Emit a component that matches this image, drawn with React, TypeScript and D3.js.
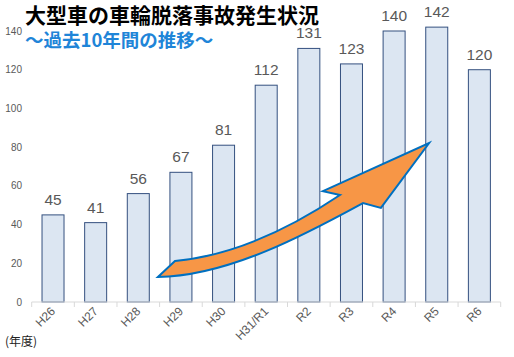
import React from "react";
import * as d3 from "d3";

const categories = ["H26", "H27", "H28", "H29", "H30", "H31/R1", "R2", "R3", "R4", "R5", "R6"];
const values = [45, 41, 56, 67, 81, 112, 131, 123, 140, 142, 120];
const yTicks = [0, 20, 40, 60, 80, 100, 120, 140];
const title = "大型車の車輪脱落事故発生状況";
const subtitle = "～過去10年間の推移～";
const unitLabel = "(年度)";

// arrow annotation in data space: [category index (fractional), value]
const arrowTail: [number, number][] = [[2.46, 12.9], [2.86, 21.2]];
const arrowTopCurve: [number, number][] = [[4.15, 23.8], [5.44, 36.2], [6.73, 55.3]];
const arrowHead: [number, number][] = [[6.33, 57.3], [8.82, 82.1], [7.69, 48.6], [7.27, 51.1]];
const arrowBottomCurve: [number, number][] = [[6.03, 36.2], [4.15, 13.4], [2.46, 12.9]];

const W = 514, H = 357;
const x0 = 31.7, x1 = 500.7, yBase = 302, yTop = 31;

export default function App() {
  const x = d3.scaleBand<string>().domain(categories).range([x0, x1]).paddingInner(0.484).paddingOuter(0.242);
  const y = d3.scaleLinear().domain([0, 140]).range([yBase, yTop]);
  const step = x.step();
  const xi = d3.scaleLinear().domain([0, 1]).range([x0 + step / 2, x0 + step * 1.5]);
  const P = (p: [number, number]) => `${xi(p[0]).toFixed(1)},${y(p[1]).toFixed(1)}`;

  const arrowPath =
    `M${P(arrowTail[0])} L${P(arrowTail[1])} ` +
    `C${P(arrowTopCurve[0])} ${P(arrowTopCurve[1])} ${P(arrowTopCurve[2])} ` +
    arrowHead.map((p) => `L${P(p)}`).join(" ") +
    ` C${P(arrowBottomCurve[0])} ${P(arrowBottomCurve[1])} ${P(arrowBottomCurve[2])} Z`;

  const boundaries = d3.range(categories.length + 1).map((i) => x0 + i * step);
  const font = "'Liberation Sans', Arial, sans-serif";
  const cjk = "'Noto Sans CJK JP', sans-serif";

  return (
    <svg width={W} height={H} style={{ position: "absolute", left: 0, top: 0, background: "#fff" }}>
      {/* y tick labels */}
      {yTicks.map((t) => (
        <text key={t} x={22} y={y(t)} dy="0.35em" textAnchor="end" fontSize={10} fill="#595959" fontFamily={font}>
          {t}
        </text>
      ))}
      {/* bars */}
      {categories.map((c, i) => (
        <rect
          key={c}
          x={x(c)}
          y={y(values[i])}
          width={x.bandwidth()}
          height={yBase - y(values[i])}
          fill="#dce6f2"
          stroke="#34507f"
          strokeWidth={1}
        />
      ))}
      {/* axis */}
      <line x1={x0} x2={x1} y1={yBase} y2={yBase} stroke="#d9d9d9" strokeWidth={1} />
      {boundaries.map((b, i) => (
        <line key={i} x1={b} x2={b} y1={yBase} y2={yBase + 5} stroke="#d9d9d9" strokeWidth={1} />
      ))}
      {/* x labels */}
      {categories.map((c) => {
        const cx = (x(c) as number) + x.bandwidth() / 2 + 3;
        const cy = yBase + 10;
        return (
          <text
            key={c}
            x={cx}
            y={cy}
            textAnchor="end"
            fontSize={12}
            fill="#595959"
            fontFamily={font}
            transform={`rotate(-45 ${cx} ${cy})`}
          >
            {c}
          </text>
        );
      })}
      {/* value labels */}
      {categories.map((c, i) => (
        <text
          key={c}
          x={(x(c) as number) + x.bandwidth() / 2}
          y={y(values[i]) - 10}
          textAnchor="middle"
          fontSize={15.5}
          fill="#595959"
          fontFamily={font}
        >
          {values[i]}
        </text>
      ))}
      {/* arrow */}
      <path d={arrowPath} fill="#f79646" stroke="#0070c0" strokeWidth={2} strokeLinejoin="miter" />
      {/* titles */}
      <text x={25} y={23} fontSize={21} fontWeight="bold" fill="#000" fontFamily={cjk}>
        {title}
      </text>
      <text x={25} y={47} fontSize={18.5} fontWeight="bold" fill="#1f85d8" fontFamily={cjk}>
        {subtitle}
      </text>
      <text x={5} y={346} fontSize={12} fill="#222" fontFamily={cjk}>
        {unitLabel}
      </text>
    </svg>
  );
}
